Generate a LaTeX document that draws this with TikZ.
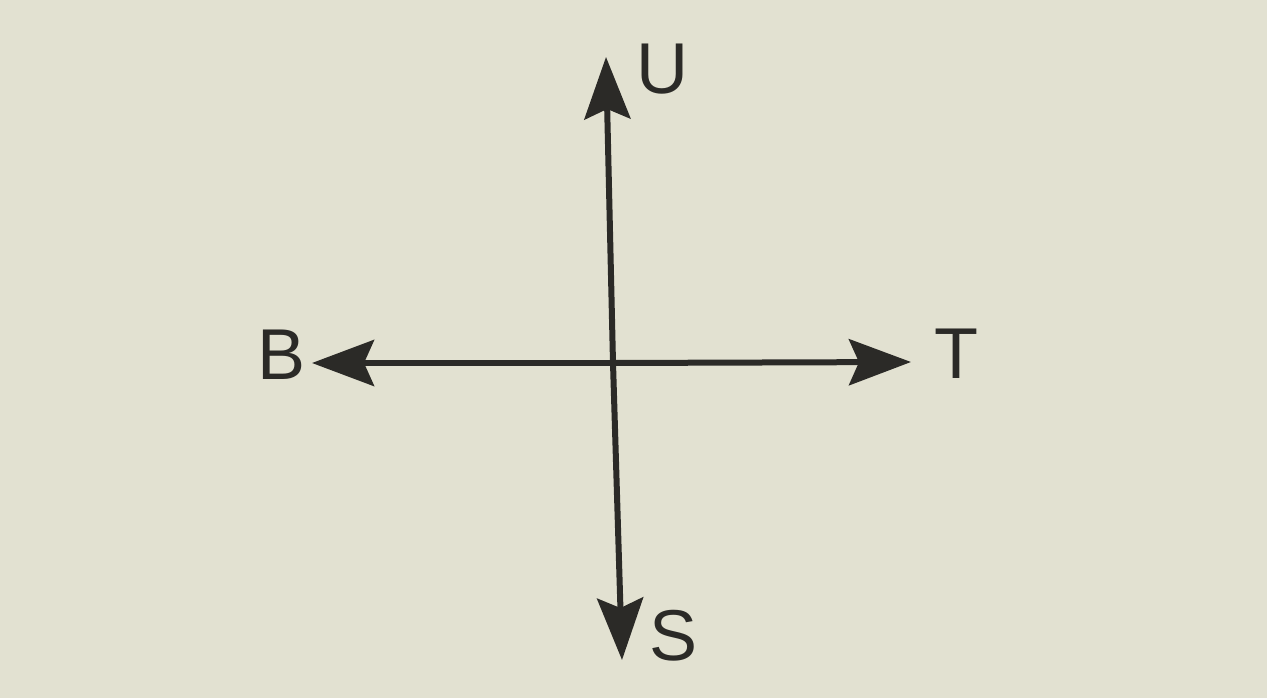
\documentclass[tikz,border=0pt]{standalone}
\usepackage{fontspec}
\setmainfont{Liberation Sans}
\usetikzlibrary{arrows.meta}
\definecolor{paper}{HTML}{E2E1D1}
\definecolor{ink}{HTML}{2B2A27}
\begin{document}
\begin{tikzpicture}[x=1pt,y=-1pt,
  axis/.style={draw=ink,line width=6pt,-{Stealth[length=62pt,width=46pt,inset=10pt]}},
  lbl/.style={text=ink,font=\fontsize{72}{72}\selectfont,inner sep=0pt}]
\fill[paper] (0,0) rectangle (1267,698);
\useasboundingbox (0,0) rectangle (1267,698);
\coordinate (c) at (613,363);
\coordinate (u) at (606,57);
\coordinate (s) at (622,660);
\coordinate (b) at (312,363);
\coordinate (t) at (911,362);
\draw[axis] (c) -- (u);
\draw[axis] (c) -- (s);
\draw[axis] (c) -- (b);
\draw[axis] (c) -- (t);
\node[lbl] (U) at (662,69) {U};
\node[lbl] (B) at (282,355) {B};
\node[lbl] (T) at (956,354) {T};
\node[lbl] (S) at (674,636) {S};
\end{tikzpicture}
\end{document}
